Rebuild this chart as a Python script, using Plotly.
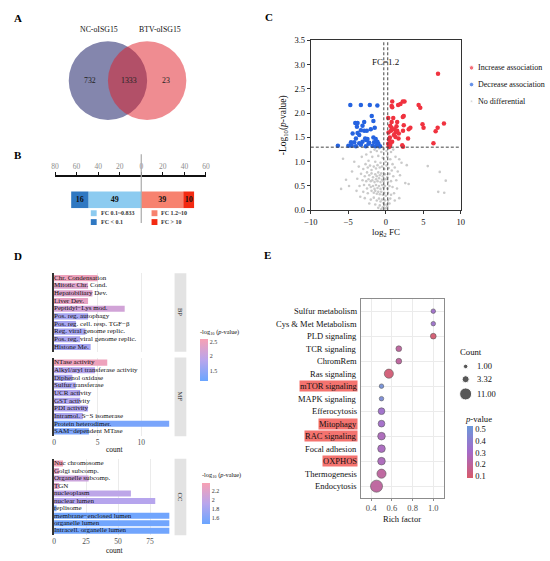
import math
import plotly.graph_objects as go

W, H = 550, 561
SERIF = "Liberation Serif"

# ---------- A: Venn ----------
venn_sets = ["NC-oISG15", "BTV-oISG15"]
venn_counts = [732, 1333, 23]

# ---------- B: FC bins ----------
fc_bins = ["FC < 0.1", "FC 0.1~0.833", "FC 1.2~10", "FC > 10"]
fc_counts = [16, 49, 39, 10]
fc_colors = ["#2f78c2", "#8ccbf0", "#f7826f", "#f32a12"]
b_tickvals = [-80, -60, -40, -20, 0, 20, 40, 60]
b_ticktext = ["80", "60", "40", "20", "0", "20", "40", "60"]

# ---------- C: volcano ----------
up_fc = [6.97, 7.76, 6.92, 6.65, 6.36, 4.9, 5.04, 4.38, 4.6, 2.5, 2.27, 1.96, 1.65, 0.86, 0.78, 0.86,
         2.4, 2.27, 3.28, 3.06, 2.97, 1.52, 2.4, 2.3, 1.43, 1.3, 0.78, 0.6, 0.33, 0.7, 1.2, 0.55,
         0.42, 0.85, 0.33, 0.6, 2.2, 2.3, 0.42, 0.5, 1.3, 1.7, 1.08, 0.37, 1.0, 1.52, 1.74, 0.65, 0.78]
up_logp = [2.81, 1.79, 1.70, 1.63, 1.38, 1.77, 1.70, 2.17, 2.11, 2.24, 2.24, 2.19, 2.17, 2.24, 2.15, 2.12,
           1.94, 1.92, 1.70, 1.67, 1.48, 1.82, 1.75, 1.64, 1.73, 1.60, 1.70, 1.74, 1.90, 1.64, 1.67, 1.50,
           1.46, 1.41, 1.37, 1.35, 1.34, 1.31, 1.32, 1.31, 1.51, 1.48, 1.55, 1.60, 1.90, 1.64, 1.58, 1.41, 1.82]
down_fc = [-4.73, -3.32, -2.13, -1.12, -1.87, -4.07, -3.76, -2.88, -1.65, -3.85, -3.1, -3.32, -2.88, -2.53,
           -2.0, -1.47, -4.42, -3.54, -3.98, -2.75, -2.62, -2.44, -1.65, -1.34, -4.64, -4.2, -3.1, -3.54,
           -2.22, -1.56, -1.12, -0.99, -6.39, -4.99, -4.55, -3.98, -3.32, -2.66, -1.78, -1.34, -0.77, -1.12,
           -2.3, -3.76]
down_logp = [2.17, 2.17, 2.17, 2.16, 1.94, 1.80, 1.80, 1.82, 1.84, 1.72, 1.74, 1.65, 1.64, 1.64,
             1.67, 1.70, 1.58, 1.55, 1.48, 1.48, 1.45, 1.47, 1.50, 1.47, 1.40, 1.40, 1.41, 1.38,
             1.39, 1.40, 1.41, 1.37, 1.33, 1.33, 1.33, 1.32, 1.35, 1.32, 1.33, 1.32, 1.32, 1.35,
             1.37, 1.59]
ns_fc = [-1.5, -1.2, -0.9, -0.6, -0.3, 0.1, 0.4, 0.7, 1.0, -2.0, -2.6, -3.2, -1.8, -1.0, -0.4, 0.2, 0.6, 1.3,
         1.8, -5.7, -4.2, -2.3, -1.4, -0.7, 0.0, 0.9, 2.1, 2.8, 5.6, 7.2,
         -3.6, -3.0, -2.7, -2.4, -2.1, -1.9, -1.6, -1.3, -1.1, -0.8, -0.5, -0.2, 0.1, 0.4, 0.8, 1.2, 1.6,
         -4.5, -3.3, -2.8, -2.5, -2.2, -1.9, -1.7, -1.4, -1.2, -1.0, -0.8, -0.6, -0.4, -0.1, 0.2, 0.5, 1.0,
         1.9, -3.8, -3.1, -2.6, -2.3, -2.0, -1.8, -1.5, -1.3, -1.1, -0.9, -0.7, -0.5, -0.3, 0.0, 0.3, 0.7,
         1.4, -5.3, 8.0,
         -4.9, -3.5, -2.9, -2.5, -2.2, -2.0, -1.7, -1.5, -1.3, -1.1, -0.9, -0.7, -0.5, -0.3, -0.1, 0.2, 0.5,
         0.9, 1.5, 2.6, 3.05, -5.96, -3.9, -3.0, -2.4, -1.9, -1.6, -1.4, -1.2, -1.0, -0.8, -0.6, -0.4, -0.2,
         0.0, 0.3, 0.7, 1.1, 7.0, 7.8,
         -2.8, -2.0, -1.6, -1.2, -0.9, -0.7, -0.5, -0.3, -0.1, 0.1, 0.3, 0.6, 1.2, -1.4, -0.8, -0.4, -0.2,
         0.0, 0.2, -0.6, -1.0, 0.5, 1.8, -3.4, -2.2]
ns_logp = [1.25, 1.22, 1.28, 1.20, 1.26, 1.22, 1.27, 1.20, 1.25, 1.20, 1.15, 1.10, 1.10, 1.12, 1.08, 1.10,
           1.05, 1.10, 1.05, 1.06, 1.00, 1.02, 1.00, 0.98, 1.00, 0.95, 0.98, 0.93, 0.91, 0.79,
           0.90, 0.85, 0.95, 0.88, 0.92, 0.83, 0.90, 0.86, 0.93, 0.88, 0.90, 0.85, 0.92, 0.87, 0.82, 0.88,
           0.80, 0.80, 0.75, 0.70, 0.78, 0.72, 0.76, 0.68, 0.74, 0.70, 0.78, 0.72, 0.76, 0.70, 0.74, 0.68,
           0.75, 0.70, 0.72, 0.65, 0.62, 0.60, 0.64, 0.60, 0.62, 0.58, 0.64, 0.60, 0.66, 0.58, 0.63, 0.60,
           0.64, 0.58, 0.60, 0.62, 0.63, 0.61,
           0.50, 0.50, 0.52, 0.45, 0.52, 0.48, 0.50, 0.44, 0.52, 0.46, 0.50, 0.44, 0.52, 0.47, 0.50, 0.45,
           0.50, 0.48, 0.45, 0.56, 0.54, 0.44, 0.40, 0.38, 0.35, 0.40, 0.36, 0.40, 0.34, 0.38, 0.33, 0.38,
           0.32, 0.36, 0.30, 0.36, 0.32, 0.35, 0.38, 0.36,
           0.25, 0.22, 0.26, 0.20, 0.24, 0.18, 0.22, 0.15, 0.20, 0.12, 0.20, 0.24, 0.20, 0.12, 0.10, 0.06,
           0.10, 0.04, 0.08, 0.02, 0.05, 0.14, 0.25, 0.28, 0.14]
volcano_groups = ["Increase association", "Decrease association", "No differential"]
p_cut = 1.3
fc_cut = math.log2(1.2)

# ---------- D: GO enrichment ----------
bp_terms = ["Chr. Condensation", "Mitotic Chr. Cond.", "Hepatobiliary Dev.", "Liver Dev.",
            "Peptidyl\u2212Lys mod.", "Pos. reg. autophagy", "Pos. reg. cell. resp. TGF\u2212\u03b2",
            "Reg. viral genome replic.", "Pos. reg. viral genome replic.", "Histone Me."]
bp_count = [5.0, 3.9, 4.4, 3.9, 8.1, 3.9, 2.5, 3.6, 3.0, 4.2]
bp_logp = [2.5, 2.3, 2.3, 2.4, 2.15, 1.7, 1.7, 1.7, 1.75, 1.7]
bp_marked = [False, False, False, False, True, True, False, False, True, False]

mf_terms = ["NTase activity", "Alkyl/aryl transferase activity", "Diphenol oxidase", "Sulfur transferase",
            "UCR activity", "GST activity", "PDI activity", "Intramol. S\u2212S isomerase",
            "Protein heterodimer.", "SAM\u2212dependent MTase"]
mf_count = [6.1, 4.7, 2.1, 2.5, 3.0, 3.0, 3.9, 3.3, 13.2, 4.0]
mf_logp = [2.5, 1.85, 1.75, 1.75, 1.8, 1.8, 1.8, 1.75, 1.3, 1.32]
mf_marked = [False, False, False, False, False, True, True, False, False, True]

cc_terms = ["Nuc chromosome", "Golgi subcomp.", "Organelle subcomp.", "TGN", "nucleoplasm",
            "nuclear lumen", "replisome", "membrane\u2212enclosed lumen", "organelle lumen",
            "Intracell. organelle lumen"]
cc_count = [7, 4, 27, 4, 60, 79, 2, 90, 90, 90]
cc_logp = [2.35, 2.2, 2.05, 2.2, 1.95, 1.9, 1.55, 1.5, 1.5, 1.5]
cc_marked = [False, True, False, True, True, False, False, False, False, False]

# ---------- E: KEGG ----------
kegg_terms = ["Sulfur metabolism", "Cys & Met Metabolism", "PLD signaling", "TCR signaling", "ChromRem",
              "Ras signaling", "mTOR signaling", "MAPK signaling", "Efferocytosis", "Mitophagy",
              "RAC signaling", "Focal adhesion", "OXPHOS", "Thermogenesis", "Endocytosis"]
kegg_rich = [1.0, 1.0, 1.0, 0.667, 0.667, 0.571, 0.5, 0.5, 0.5, 0.5, 0.5, 0.5, 0.5, 0.5, 0.452]
kegg_count = [1, 1, 2, 2, 2, 6, 1, 1, 3, 3, 4, 4, 4, 6, 11]
kegg_p = [0.32, 0.33, 0.1, 0.2, 0.2, 0.11, 0.48, 0.46, 0.32, 0.31, 0.27, 0.28, 0.27, 0.2, 0.2]
kegg_highlight = ["mTOR signaling", "Mitophagy", "RAC signaling", "OXPHOS"]
count_legend = [1.00, 3.32, 11.00]


def fx(px):
    return px / W


def fy(py):
    return 1 - py / H


def dom_x(a, b):
    return [fx(a), fx(b)]


def dom_y(top, bottom):
    return [fy(bottom), fy(top)]


def bubble(c):
    return math.sqrt(8 + 12.5 * c)


fig = go.Figure()
shapes = []
ann = []


def text(x, y, s, size=9, anchor="center", bold=False, color="#111", angle=0, **kw):
    if bold:
        s = "<b>%s</b>" % s
    d = dict(x=fx(x), y=fy(y), xref="paper", yref="paper", text=s, showarrow=False,
             xanchor=anchor, yanchor="middle", textangle=angle,
             font=dict(family=SERIF, size=size, color=color))
    d.update(kw)
    ann.append(d)


# panel letters
for lab, x, y in [("A", 5, 13), ("B", 5, 153), ("C", 261, 12), ("D", 5, 256), ("E", 260, 255)]:
    text(x, y, lab, size=11, anchor="left", bold=True, color="#000")

# ---------- A ----------
shapes.append(dict(type="circle", xref="paper", yref="paper", x0=fx(63), x1=fx(143), y0=fy(117), y1=fy(37),
                   fillcolor="rgb(132,134,173)", line=dict(width=0), layer="below"))
shapes.append(dict(type="circle", xref="paper", yref="paper", x0=fx(103), x1=fx(183), y0=fy(117), y1=fy(37),
                   fillcolor="rgba(223,25,35,0.5)", line=dict(width=0), layer="below"))
text(94, 25, venn_sets[0], size=7.8)
text(156, 25, venn_sets[1], size=7.8)
for s, x in zip(venn_counts, [85, 124, 162]):
    text(x, 77, str(s), size=7.8, color="#222")

# ---------- B ----------
b_x = [-fc_counts[1], -fc_counts[0], fc_counts[2], fc_counts[3]]
b_col = [fc_colors[1], fc_colors[0], fc_colors[2], fc_colors[3]]
b_lab = [fc_counts[1], fc_counts[0], fc_counts[2], fc_counts[3]]
for v, c, l in zip(b_x, b_col, b_lab):
    fig.add_trace(go.Bar(x=[v], y=[0], width=17, orientation="h", marker=dict(color=c, line_width=0),
                         text=["<b>%d</b>" % l], textposition="inside", insidetextanchor="middle",
                         textangle=0, constraintext="none",
                         textfont=dict(family=SERIF, size=8, color="#111"),
                         xaxis="x2", yaxis="y2", showlegend=False, hoverinfo="skip"))
shapes.append(dict(type="line", xref="x2", yref="paper", x0=0, x1=0, y0=fy(222), y1=fy(152),
                   line=dict(color="#aaaaaa", width=1.2)))
for (c, lab), (x, y) in zip([(fc_colors[1], fc_bins[1]), (fc_colors[0], fc_bins[0]),
                             (fc_colors[2], fc_bins[2]), (fc_colors[3], fc_bins[3])],
                            [(88.5, 212), (88.5, 221), (150.5, 212), (150.5, 221)]):
    shapes.append(dict(type="rect", xref="paper", yref="paper", x0=fx(x - 3), x1=fx(x + 3),
                       y0=fy(y + 3), y1=fy(y - 3), fillcolor=c, line=dict(width=0)))
    text(x + 5, y, lab, size=6, anchor="left", bold=True, color="#333")

# ---------- C ----------
fig.add_trace(go.Scatter(x=ns_fc, y=ns_logp, mode="markers", marker=dict(color="#cacaca", size=2.6),
                         xaxis="x3", yaxis="y3", showlegend=False, hoverinfo="skip"))
fig.add_trace(go.Scatter(x=down_fc, y=down_logp, mode="markers", marker=dict(color="#2563e0", size=4.5),
                         xaxis="x3", yaxis="y3", showlegend=False))
fig.add_trace(go.Scatter(x=up_fc, y=up_logp, mode="markers", marker=dict(color="#f0323f", size=4.5),
                         xaxis="x3", yaxis="y3", showlegend=False))
for y0, y1, x0, x1 in [(p_cut, p_cut, -10, 10), (0, 3.5, -fc_cut, -fc_cut), (0, 3.5, fc_cut, fc_cut)]:
    shapes.append(dict(type="line", xref="x3", yref="y3", x0=x0, x1=x1, y0=y0, y1=y1,
                       line=dict(color="#444", width=1, dash="3px,2px")))
ann.append(dict(x=0, y=3.05, xref="x3", yref="y3", text="FC=1.2", showarrow=False,
                font=dict(family=SERIF, size=9, color="#111")))
text(282, 122, "-Log<sub>10</sub>(<i>p</i>-value)", size=9.5, angle=-90)
text(387, 232, "log<sub>2</sub> FC", size=9)
fig.add_trace(go.Scatter(x=[474, 474, 474], y=[64, 81, 98], mode="markers",
                         marker=dict(color=["#f0323f", "#2563e0", "#cacaca"], size=[4.5, 4.5, 2.6]),
                         xaxis="x9", yaxis="y9", showlegend=False, hoverinfo="skip"))
for lab, y in zip(volcano_groups, [64, 81, 98]):
    text(479, y, lab, size=8, anchor="left")


# ---------- D ----------
def go_panel(terms, counts, logp, marked, xa, ya, cax, dot_x):
    fig.add_trace(go.Bar(x=counts, y=terms, orientation="h", width=0.8,
                         marker=dict(color=logp, coloraxis=cax, line_width=0),
                         xaxis=xa, yaxis=ya, showlegend=False))
    fig.add_trace(go.Scatter(x=[0] * len(terms), y=terms, mode="text", text=terms,
                             textposition="middle right", cliponaxis=False,
                             textfont=dict(family=SERIF, size=7, color="#111"),
                             xaxis=xa, yaxis=ya, showlegend=False, hoverinfo="skip"))
    mk = [t for t, m in zip(terms, marked) if m]
    fig.add_trace(go.Scatter(x=[dot_x] * len(mk), y=mk, mode="markers", cliponaxis=False,
                             marker=dict(color="#f47a72", size=5), xaxis=xa, yaxis=ya,
                             showlegend=False, hoverinfo="skip"))


go_panel(bp_terms, bp_count, bp_logp, bp_marked, "x4", "y4", "coloraxis", -0.67)
go_panel(mf_terms, mf_count, mf_logp, mf_marked, "x5", "y5", "coloraxis", -0.67)
go_panel(cc_terms, cc_count, cc_logp, cc_marked, "x6", "y6", "coloraxis2", -4.6)

for lab, top, bot in [("BP", 273, 353), ("MF", 359, 439), ("CC", 462, 540)]:
    shapes.append(dict(type="rect", xref="paper", yref="paper", x0=fx(171), x1=fx(183), y0=fy(bot), y1=fy(top),
                       fillcolor="#e3e3e3", line=dict(width=0), layer="below"))
    text(177, (top + bot) / 2, lab, size=6.5, angle=90, color="#222")
text(110, 453, "count", size=7.5)
text(110, 555, "count", size=7.5)
text(195, 333, "-log<sub>10</sub> (<i>p</i>-value)", size=6.3, anchor="left")
text(197, 479, "-log<sub>10</sub> (<i>p</i>-value)", size=6.3, anchor="left")

# ---------- E ----------
fig.add_trace(go.Scatter(x=kegg_rich, y=kegg_terms, mode="markers",
                         marker=dict(size=[bubble(c) for c in kegg_count], color=kegg_p, coloraxis="coloraxis3",
                                     line=dict(width=0.6, color="#555"), opacity=0.95),
                         xaxis="x7", yaxis="y7", showlegend=False))
for t in kegg_terms:
    d = dict(x=fx(358), y=t, xref="paper", yref="y7", text=t, showarrow=False, xanchor="right",
             font=dict(family=SERIF, size=8.5, color="#111"), borderpad=0)
    if t in kegg_highlight:
        d["bgcolor"] = "#f4736f"
    ann.append(d)
text(403.5, 523, "Rich factor", size=8.5)
text(460, 353, "Count", size=8.7, anchor="left")
fig.add_trace(go.Scatter(x=[468] * 3, y=[368, 381, 396], mode="markers",
                         marker=dict(color="#111", size=[bubble(c) for c in count_legend]),
                         xaxis="x9", yaxis="y9", showlegend=False, hoverinfo="skip"))
for c, y in zip(count_legend, [368, 381, 396]):
    text(478, y, "%.2f" % c, size=8.5, anchor="left")
text(465, 422, "<i>p</i>-value", size=8.7, anchor="left")

# ---------- layout ----------
noax = dict(visible=False)
dscale = [[0, "#6aa5ff"], [0.5, "#b9a5ec"], [1, "#f7a1b4"]]
cb_common = dict(lenmode="pixels", thickness=8, xanchor="left", yanchor="top", xpad=0, ypad=0,
                 outlinewidth=0, ticks="", tickfont=dict(family=SERIF, size=6, color="#333"))
d_x = dict(showgrid=True, gridcolor="#ebebeb", zeroline=False, showline=False,
           tickfont=dict(family=SERIF, size=7.5, color="#4d4d4d"), ticks="")
d_y = dict(showticklabels=False, showgrid=False, zeroline=False, showline=True, linecolor="#333",
           linewidth=1.5, ticks="", range=[9.62, -0.65])

fig.update_layout(
    width=W, height=H, margin=dict(l=0, r=0, t=0, b=0),
    paper_bgcolor="white", plot_bgcolor="rgba(0,0,0,0)",
    font=dict(family=SERIF, color="#111"), barmode="relative", showlegend=False,
    shapes=shapes, annotations=ann,
    xaxis2=dict(domain=dom_x(49, 203), anchor="y2", side="top", range=[-80, 60], tickvals=b_tickvals,
                ticktext=b_ticktext, showgrid=False, zeroline=False, showline=True, linecolor="#111",
                linewidth=1.8, ticks="outside", ticklen=3, tickcolor="#111",
                tickfont=dict(family=SERIF, size=7.5, color="#8c8c8c")),
    yaxis2=dict(domain=dom_y(175, 207), anchor="x2", range=[-8.5, 23.5], visible=False),
    xaxis3=dict(domain=dom_x(310, 463), anchor="y3", range=[-10, 10], tickvals=[-10, -5, 0, 5, 10],
                showgrid=False, zeroline=False, showline=True, mirror=True, linecolor="#333", linewidth=1.2,
                ticks="outside", ticklen=3, tickcolor="#333", tickfont=dict(family=SERIF, size=8.5, color="#111")),
    yaxis3=dict(domain=dom_y(36, 209), anchor="x3", range=[0, 3.5], tickvals=[0, 0.5, 1, 1.5, 2, 2.5, 3, 3.5],
                tickformat=".1f", showgrid=False, zeroline=False, showline=True, mirror=True, linecolor="#333",
                linewidth=1.2, ticks="outside", ticklen=3, tickcolor="#333",
                tickfont=dict(family=SERIF, size=8.5, color="#111")),
    xaxis4=dict(domain=dom_x(48, 171), anchor="y4", range=[0, 13.82], tickvals=[0, 5, 10], showticklabels=False,
                **d_x),
    yaxis4=dict(domain=dom_y(273, 353), anchor="x4", categoryarray=bp_terms, categoryorder="array", **d_y),
    xaxis5=dict(domain=dom_x(48, 171), anchor="y5", range=[0, 13.82], tickvals=[0, 5, 10], **d_x),
    yaxis5=dict(domain=dom_y(359, 439), anchor="x5", categoryarray=mf_terms, categoryorder="array", **d_y),
    xaxis6=dict(domain=dom_x(48, 171), anchor="y6", range=[0, 94.1], tickvals=[0, 25, 50, 75], **d_x),
    yaxis6=dict(domain=dom_y(462, 540), anchor="x6", categoryarray=cc_terms, categoryorder="array", **d_y),
    xaxis7=dict(domain=dom_x(361, 446), anchor="y7", range=[0.3, 1.104], tickvals=[0.4, 0.6, 0.8, 1.0],
                ticktext=["0.4", "0.6", "0.8", "1.0"], showgrid=True, gridcolor="#ebebeb", zeroline=False,
                showline=True, mirror=True, linecolor="#8c8c8c", linewidth=1, ticks="outside", ticklen=2,
                tickcolor="#8c8c8c", tickfont=dict(family=SERIF, size=8.5, color="#4d4d4d")),
    yaxis7=dict(domain=dom_y(299, 502), anchor="x7", categoryarray=kegg_terms, categoryorder="array",
                range=[14.95, -1.0], showticklabels=False, showgrid=True, gridcolor="#ebebeb", zeroline=False,
                showline=True, mirror=True, linecolor="#8c8c8c", linewidth=1, ticks=""),
    xaxis9=dict(domain=[0, 1], anchor="y9", range=[0, W], **noax),
    yaxis9=dict(domain=[0, 1], anchor="x9", range=[H, 0], **noax),
    coloraxis=dict(colorscale=dscale, cmin=1.15, cmax=2.6,
                   colorbar=dict(x=fx(197), y=fy(340), len=42, tickvals=[1.5, 2.0, 2.5], **cb_common)),
    coloraxis2=dict(colorscale=dscale, cmin=1.46, cmax=2.38,
                    colorbar=dict(x=fx(199), y=fy(487), len=41, tickvals=[1.6, 1.8, 2.0, 2.2], **cb_common)),
    coloraxis3=dict(colorscale=[[0, "#d85a6a"], [0.5, "#a46ac8"], [1, "#6b98da"]], cmin=0.083, cmax=0.52,
                    colorbar=dict(x=fx(469), y=fy(429), len=52, lenmode="pixels", thickness=6, xanchor="left",
                                  yanchor="top", xpad=0, ypad=0, outlinewidth=0, ticks="",
                                  tickvals=[0.1, 0.2, 0.3, 0.4, 0.5],
                                  tickfont=dict(family=SERIF, size=8.5, color="#111"))),
)

fig.write_html("out.html", config={"displayModeBar": False},
               post_script="document.body.style.margin='0';")
